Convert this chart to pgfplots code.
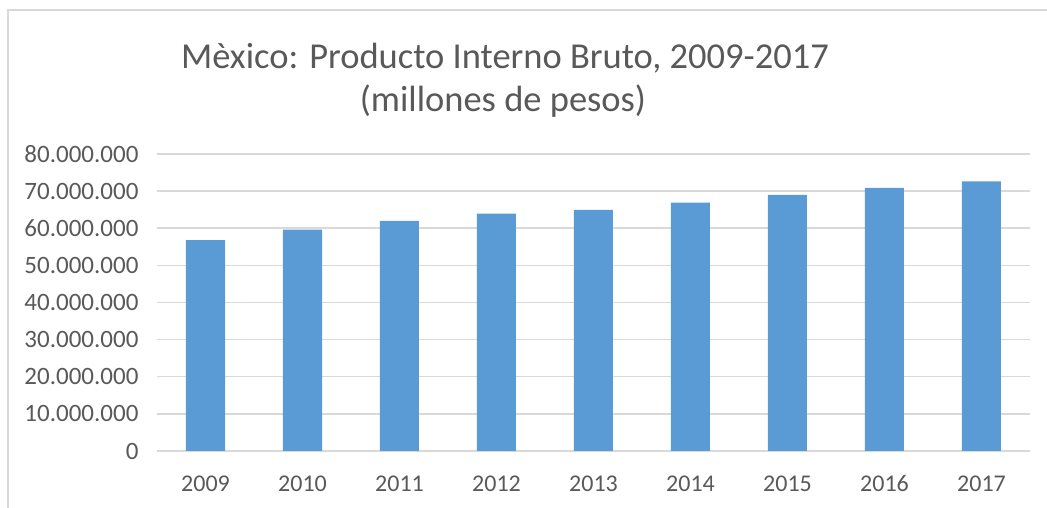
\documentclass[border=0pt]{standalone}
\usepackage{pgfplots}
\pgfplotsset{compat=1.18}
\usepackage{fontspec}
\setmainfont{Carlito}
\definecolor{barblue}{HTML}{5B9BD5}
\definecolor{gridgray}{HTML}{D9D9D9}
\definecolor{txt}{HTML}{595959}
\begin{document}
\begin{tikzpicture}
\path[use as bounding box] (0pt,0pt) rectangle (1047pt,508pt);
\draw[gridgray, line width=1.5pt] (8pt,0pt) -- (8pt,498pt) -- (1047pt,498pt);
\begin{axis}[
  at={(157pt,57pt)}, anchor=south west,
  scale only axis, width=873pt, height=297pt,
  xmin=-0.5, xmax=8.5, ymin=0, ymax=80000000,
  axis line style={draw=none},
  ymajorgrids, grid style={gridgray, line width=1.5pt},
  ytick={0,10000000,...,80000000},
  scaled y ticks=false,
  /pgf/number format/fixed,
  /pgf/number format/1000 sep={.},
  /pgf/number format/assume math mode=true,
  xtick={0,...,8},
  xticklabels={2009,2010,2011,2012,2013,2014,2015,2016,2017},
  tick label style={text=txt},
  xticklabel style={font=\fontsize{24}{28}\selectfont, text height=16pt, text depth=0pt, yshift=-21pt},
  yticklabel style={font=\fontsize{25}{29}\selectfont, xshift=-15pt},
  major tick length=0pt,
  tick style={draw=none},
  ybar, bar width=39pt,
  clip=false,
]
\addplot[fill=barblue, draw=none] coordinates {
 (0,56800000) (1,59650000) (2,62000000) (3,63950000) (4,64950000)
 (5,66900000) (6,69000000) (7,70900000) (8,72600000)};
\end{axis}
\node[anchor=base, text=txt, font=\fontsize{36.5}{42}\selectfont] at (505pt,439pt) {Mèxico: Producto Interno Bruto, 2009-2017};
\node[anchor=base, text=txt, font=\fontsize{36.5}{42}\selectfont] at (503pt,396pt) {(millones de pesos)};
\end{tikzpicture}
\end{document}
